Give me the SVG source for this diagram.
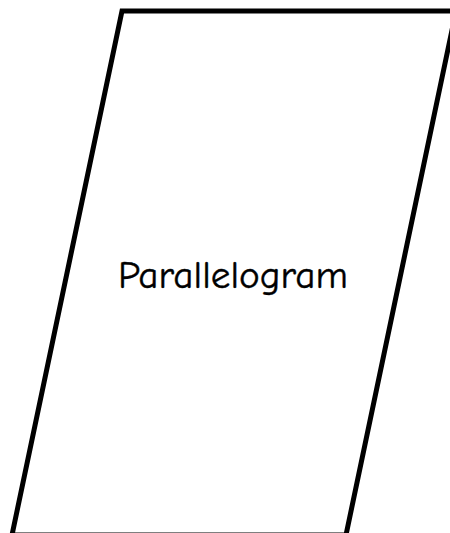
<svg xmlns="http://www.w3.org/2000/svg" width="450" height="533" viewBox="0 0 450 533">
<style>
.shape{fill:#fff;stroke:#000;stroke-width:5;stroke-linejoin:miter}
.lbl{font-family:"Comic Sans MS","Comic Neue","Noto Sans",sans-serif;font-size:38px;fill:#000;stroke:#000;stroke-width:0.4;text-anchor:middle}
</style>
<rect width="450" height="533" fill="#fff"/>
<g id="parallelogram">
<polygon class="shape" points="122,11 456,11 346,535 12,535"/>
<text class="lbl" x="233" y="288" textLength="230" lengthAdjust="spacingAndGlyphs">Parallelogram</text>
</g>
</svg>
